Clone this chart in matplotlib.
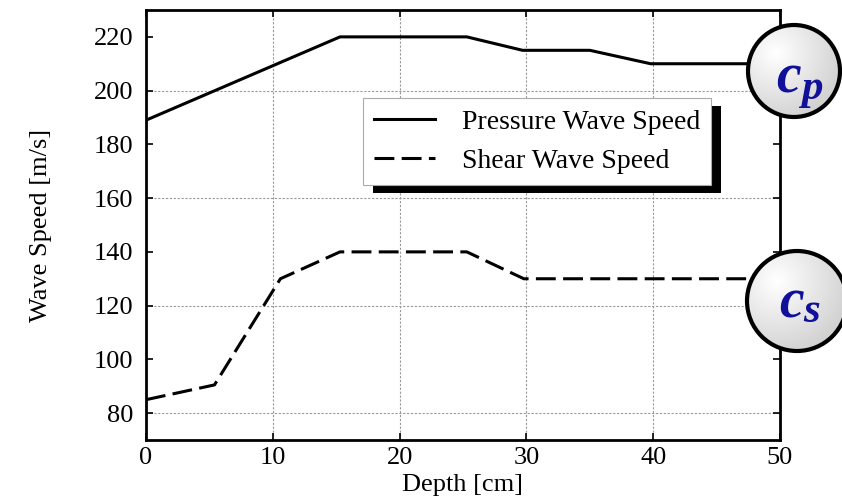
import numpy as np
import matplotlib.pyplot as plt
from matplotlib.patches import Circle, Rectangle

# data
depth_p = [0, 15.3, 25.3, 29.7, 35, 39.8, 50]
speed_p = [189, 220, 220, 215, 215, 210, 210]
depth_s = [0, 5.4, 10.6, 15.3, 25.3, 29.8, 50]
speed_s = [85, 90.5, 130, 140, 140, 130, 130]
xticks = [0, 10, 20, 30, 40, 50]
yticks = [80, 100, 120, 140, 160, 180, 200, 220]
ygrid = [80, 120, 160, 200]

plt.rcParams['font.family'] = ['Liberation Serif', 'DejaVu Serif']

fig = plt.figure(figsize=(8.42, 5.03), dpi=100)
ax = fig.add_axes([146 / 842, 1 - 440 / 503, (780 - 146) / 842, (440 - 10) / 503])

ax.plot(depth_p, speed_p, color='black', lw=2.2, label='Pressure Wave Speed')
ax.plot(depth_s, speed_s, color='black', lw=2.2, dashes=(6.5, 2.4), label='Shear Wave Speed')

ax.set_xlim(0, 50)
ax.set_ylim(70, 230)
ax.set_xticks(xticks)
ax.set_yticks(yticks)
ax.tick_params(direction='in', top=True, right=True, labelsize=19, length=5, width=1.2)
ax.tick_params(axis='y', pad=9)
ax.tick_params(axis='x', pad=5)
for s in ax.spines.values():
    s.set_linewidth(2)
ax.xaxis.grid(True, ls=(0, (2, 1.5)), color='#999999', lw=0.8)
for v in ygrid:
    ax.axhline(v, ls=(0, (2, 1.5)), color='#999999', lw=0.8, zorder=0.5)
ax.set_xlabel('Depth [cm]', fontsize=19, labelpad=4)
ax.set_ylabel('Wave Speed [m/s]', fontsize=19, labelpad=30)

leg = ax.legend(loc='upper left', bbox_to_anchor=(363 / 842, 1 - 98 / 503),
                bbox_transform=fig.transFigure, fontsize=20, frameon=True,
                fancybox=False, framealpha=1, edgecolor='#aaaaaa',
                handlelength=2.2, handletextpad=0.95, borderpad=0.4,
                labelspacing=0.5, borderaxespad=0)
leg.get_frame().set_linewidth(0.8)
fig.canvas.draw()
bb = leg.get_window_extent()
shadow = Rectangle((bb.x0 + 10, bb.y0 - 8), bb.width, bb.height, transform=None,
                   facecolor='black', edgecolor='none', zorder=4.5, clip_on=False)
ax.add_artist(shadow)

# overlay for the circle badges, in pixel coordinates
ov = fig.add_axes([0, 0, 1, 1], facecolor='none')
ov.axis('off')

yy, xx = np.mgrid[-1:1:200j, -1:1:200j]
rr = np.sqrt((xx + 0.4) ** 2 + (yy + 0.4) ** 2)
grad = np.clip(1 - 0.12 * rr, 0.8, 1)

badges = [(794, 71, 46, 'p', 776, 92, 801, 99),
          (797, 301, 50, 's', 779, 317, 803, 322)]
for cx, cy, r, sub, tx, ty, sx, sy in badges:
    circ = Circle((cx, cy), r, facecolor='none', edgecolor='black', lw=3, zorder=3)
    ov.add_patch(circ)
    im = ov.imshow(grad, cmap='gray', vmin=0, vmax=1, extent=(cx - r, cx + r, cy + r, cy - r),
                   zorder=2, interpolation='bilinear')
    im.set_clip_path(Circle((cx, cy), r, transform=ov.transData))
    ov.text(tx, ty, 'c', fontsize=40, fontweight='bold', fontstyle='italic',
            color='#10109a', ha='left', va='baseline', zorder=4)
    ov.text(sx, sy, sub, fontsize=31, fontweight='bold', fontstyle='italic',
            color='#10109a', ha='left', va='baseline', zorder=4)
ov.set_xlim(0, 842)
ov.set_ylim(503, 0)

fig.savefig('out.png', dpi=100)
